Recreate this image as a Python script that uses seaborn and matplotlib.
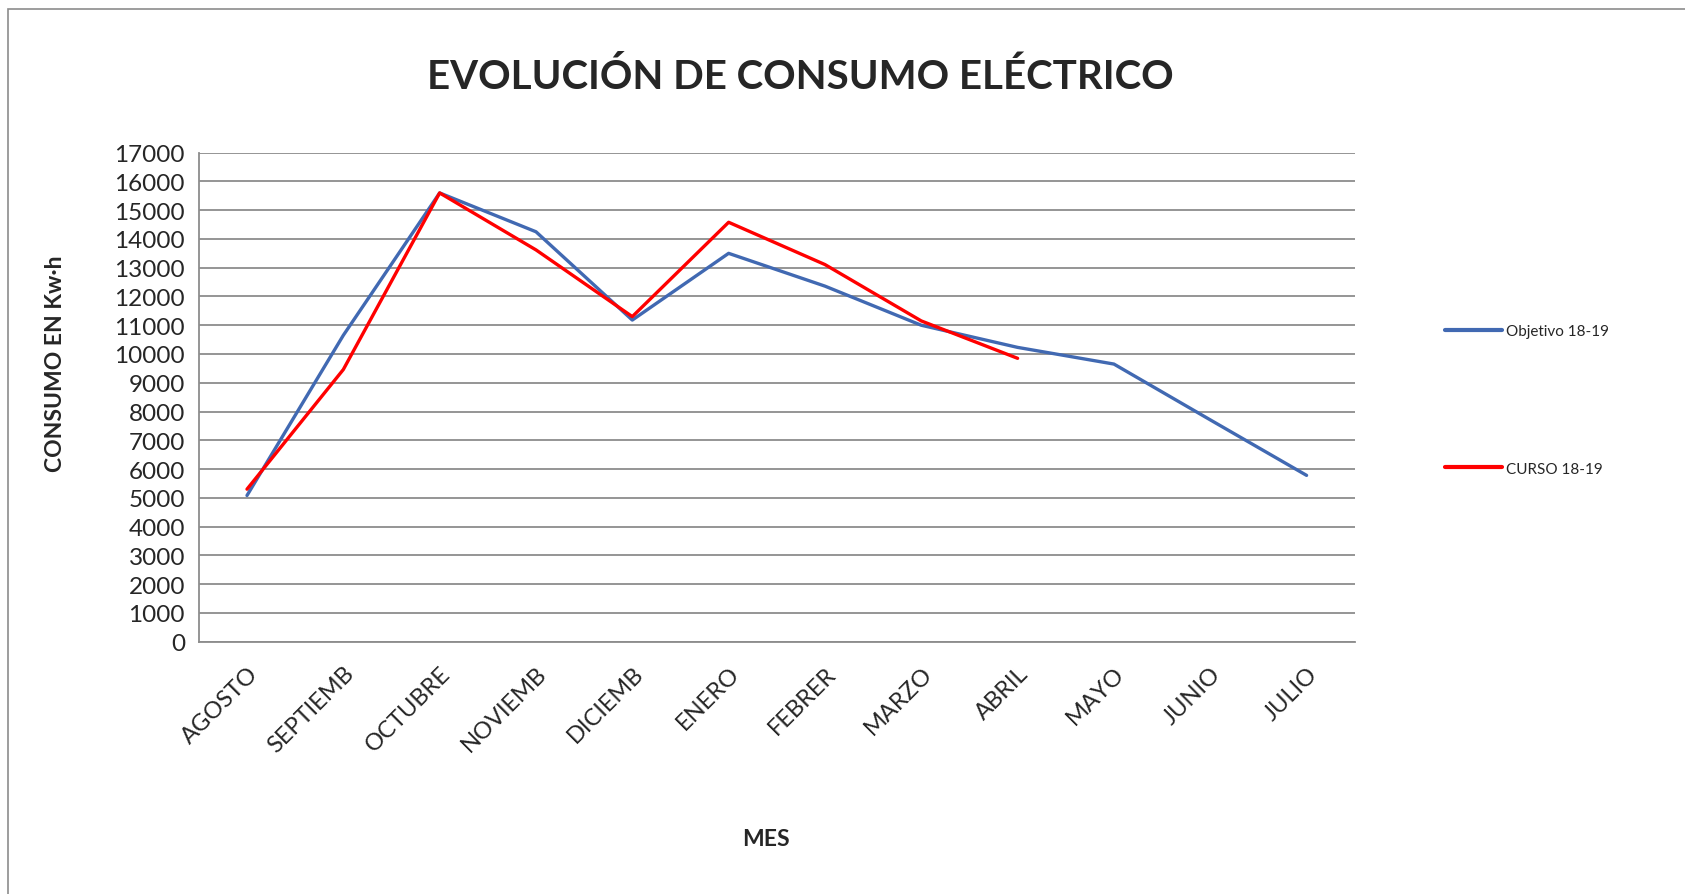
import pandas as pd
import numpy as np
import matplotlib
matplotlib.use('Agg')
import matplotlib.pyplot as plt
import seaborn as sns
from matplotlib.patches import Rectangle

# datos (Kw·h por mes)
meses = ['AGOSTO', 'SEPTIEMB', 'OCTUBRE', 'NOVIEMB', 'DICIEMB', 'ENERO',
         'FEBRER', 'MARZO', 'ABRIL', 'MAYO', 'JUNIO', 'JULIO']
objetivo = [5080, 10650, 15600, 14250, 11180, 13500,
            12360, 11000, 10230, 9650, 7710, 5780]
curso = [5300, 9460, 15600, 13620, 11300, 14580,
         13110, 11150, 9850, np.nan, np.nan, np.nan]
series = ['Objetivo 18-19', 'CURSO 18-19']
colores = ['#4169B2', '#FF0000']
y_ticks = list(range(0, 17001, 1000))

df = pd.DataFrame({
    'mes': meses * 2,
    'pos': list(range(len(meses))) * 2,
    'valor': objetivo + curso,
    'serie': [series[0]] * len(meses) + [series[1]] * len(meses),
})

sns.set_style('white')
plt.rcParams['font.family'] = ['Lato', 'DejaVu Sans']

fig = plt.figure(figsize=(16.85, 8.95), dpi=100)
ax = fig.add_axes([0.118, 0.282, 0.686, 0.5463])

sns.lineplot(data=df, x='pos', y='valor', hue='serie', palette=colores,
             hue_order=series, linewidth=2.4, ax=ax, legend=True)

ax.set_xlim(-0.5, len(meses) - 0.5)
ax.set_ylim(0, 17000)
ax.set_yticks(y_ticks)
ax.set_yticklabels([str(v) for v in y_ticks], fontsize=17.5)
ax.yaxis.grid(True, color='#8c8c8c', linewidth=1.3)
ax.set_axisbelow(True)

ax.set_xticks(range(len(meses)))
ax.set_xticklabels(meses, fontsize=17, rotation=45, ha='right',
                   rotation_mode='anchor')
ax.set_xticks(np.arange(-0.5, len(meses)), minor=True)
ax.tick_params(axis='x', which='major', length=0, pad=15)
ax.tick_params(axis='x', which='minor', length=8, color='#8c8c8c', width=1.3)
ax.tick_params(axis='y', length=8, color='#8c8c8c', width=1.3, pad=2)

for s in ['top', 'right']:
    ax.spines[s].set_visible(False)
for s in ['left', 'bottom']:
    ax.spines[s].set_color('#8c8c8c')
    ax.spines[s].set_linewidth(1.3)

ax.set_xlabel('')
ax.set_ylabel('')
fig.text(0.4546, 0.0615, 'MES', fontsize=16.5, fontweight='bold',
         ha='center', va='center')
fig.text(0.0332, 0.594, 'CONSUMO EN Kw·h', fontsize=16.5, fontweight='bold',
         rotation=90, ha='center', va='center')
fig.text(0.475, 0.914, 'EVOLUCIÓN DE CONSUMO ELÉCTRICO', fontsize=29,
         fontweight='bold', ha='center', va='center')

leg = ax.legend(loc='upper left', bbox_to_anchor=(0.8576, 0.637),
                bbox_transform=fig.transFigure, frameon=False, fontsize=11,
                handlelength=3.7, handletextpad=0.3, labelspacing=8.1,
                borderpad=0, borderaxespad=0)
for line in leg.get_lines():
    line.set_linewidth(3)
    line.set_solid_capstyle('round')

# borde del gráfico
fig.patches.append(Rectangle((8 / 1685, -0.1), 1.2, 1.1 - 10 / 895,
                             transform=fig.transFigure, fill=False,
                             edgecolor='#8c8c8c', linewidth=1.2))

fig.savefig('out.png', dpi=100)
